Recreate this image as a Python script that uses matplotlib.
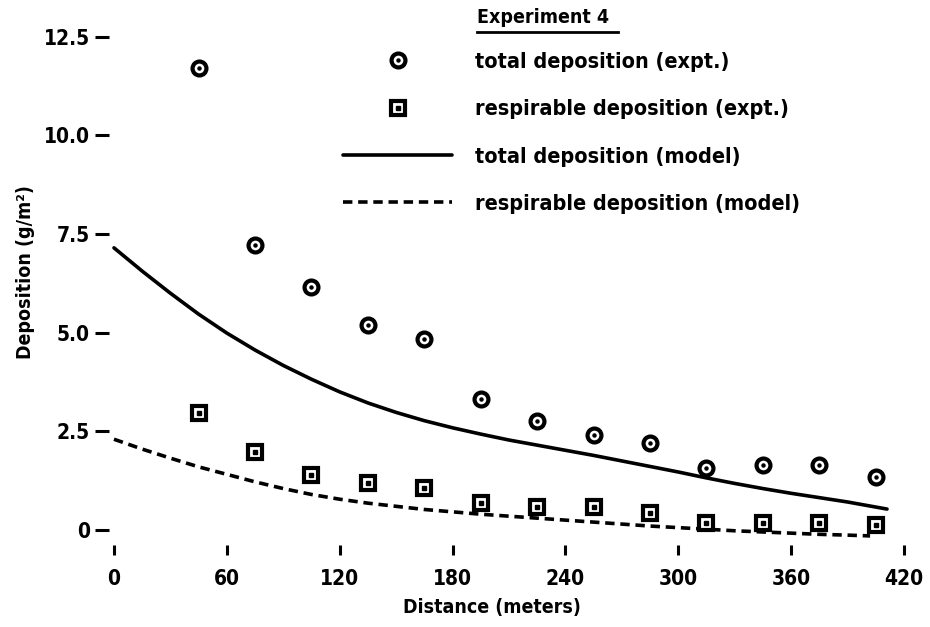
import matplotlib
matplotlib.use('Agg')
import matplotlib.pyplot as plt
from matplotlib.lines import Line2D
from matplotlib.legend_handler import HandlerTuple

plt.rcParams['font.family'] = ['DejaVu Sans']
plt.rcParams['font.stretch'] = 'condensed'
plt.rcParams['font.weight'] = 'bold'
plt.rcParams['axes.labelweight'] = 'bold'

# measured points (expt.)
dist_expt = [45, 75, 105, 135, 165, 195, 225, 255, 285, 315, 345, 375, 405]
total_expt = [11.7, 7.22, 6.15, 5.2, 4.85, 3.32, 2.76, 2.41, 2.21, 1.57, 1.65, 1.65, 1.34]
resp_expt = [2.97, 1.98, 1.39, 1.19, 1.06, 0.68, 0.58, 0.58, 0.43, 0.18, 0.18, 0.18, 0.13]

# model curves (every 15 m)
dist_total = [0, 15, 30, 45, 60, 75, 90, 105, 120, 135, 150, 165, 180, 195, 210,
              225, 240, 255, 270, 285, 300, 315, 330, 345, 360, 375, 390, 411]
total_model = [7.15, 6.56, 6.0, 5.47, 4.99, 4.56, 4.17, 3.82, 3.5, 3.22, 2.98, 2.77, 2.59, 2.43, 2.28,
               2.15, 2.02, 1.89, 1.75, 1.61, 1.47, 1.32, 1.18, 1.05, 0.93, 0.82, 0.71, 0.53]
dist_resp = [0, 15, 30, 45, 60, 75, 90, 105, 120, 135, 150, 165, 180, 195, 210,
             225, 240, 255, 270, 285, 300, 315, 330, 345, 360, 375, 390, 402]
resp_model = [2.3, 2.05, 1.82, 1.6, 1.41, 1.22, 1.05, 0.9, 0.78, 0.68, 0.6, 0.52, 0.46, 0.4, 0.35,
              0.3, 0.25, 0.2, 0.15, 0.1, 0.06, 0.02, -0.02, -0.05, -0.08, -0.11, -0.13, -0.15]

xticks = [0, 60, 120, 180, 240, 300, 360, 420]
xticklabels = ['0', '60', '120', '180', '240', '300', '360', '420']
yticks = [0, 2.5, 5.0, 7.5, 10.0, 12.5]
yticklabels = ['0', '2.5', '5.0', '7.5', '10.0', '12.5']

fig = plt.figure(figsize=(9.3, 6.27), dpi=100)
ax = fig.add_axes([0.1175, 0.1308, 0.8747, 0.8421])

line_tot, = ax.plot(dist_total, total_model, color='black', lw=2.6, solid_capstyle='round')
line_resp, = ax.plot(dist_resp, resp_model, color='black', lw=2.6, dashes=(2.6, 1.6))

circ, = ax.plot(dist_expt, total_expt, 'o', ms=10, mew=3.0, mfc='white', mec='black', ls='none')
circ_dot, = ax.plot(dist_expt, total_expt, 'o', ms=2.2, color='black', ls='none')
sq, = ax.plot(dist_expt, resp_expt, 's', ms=10, mew=3.0, mfc='white', mec='black', ls='none')
sq_dot, = ax.plot(dist_expt, resp_expt, 's', ms=2.2, color='black', ls='none')

ax.set_xlim(-2.5, 430)
ax.set_ylim(-0.38, 13.0)
for s in ax.spines.values():
    s.set_visible(False)

ax.set_xticks(xticks)
ax.set_xticklabels(xticklabels)
ax.set_yticks(yticks)
ax.set_yticklabels(yticklabels)
ax.tick_params(axis='x', direction='out', length=7.5, width=2.2, pad=10, labelsize=15)
ax.tick_params(axis='y', direction='out', length=10, width=2.2, pad=4, labelsize=15)

ax.set_xlabel('Distance (meters)', fontsize=14)
ax.xaxis.set_label_coords(0.4704, -0.1004)
ax.set_ylabel('Deposition (g/m²)', fontsize=14)
ax.yaxis.set_label_coords(-0.0913, 0.517)

leg = ax.legend([(circ, circ_dot), (sq, sq_dot), line_tot, line_resp],
                ['total deposition (expt.)', 'respirable deposition (expt.)',
                 'total deposition (model)', 'respirable deposition (model)'],
                handler_map={tuple: HandlerTuple(ndivide=1)},
                loc='upper left', bbox_to_anchor=(343 / 930, 1 - 52 / 627),
                bbox_transform=fig.transFigure, frameon=False, fontsize=15.5,
                handlelength=5.07, handletextpad=1.06, labelspacing=1.27,
                borderpad=0, borderaxespad=0)

# title of the key, underlined
fig.text(477 / 930, 1 - 23 / 627, 'Experiment 4', fontsize=14, ha='left', va='baseline')
fig.add_artist(Line2D([477 / 930, 618 / 930], [1 - 32 / 627, 1 - 32 / 627],
                      color='black', lw=2.0))

fig.savefig('out.png', dpi=100)
